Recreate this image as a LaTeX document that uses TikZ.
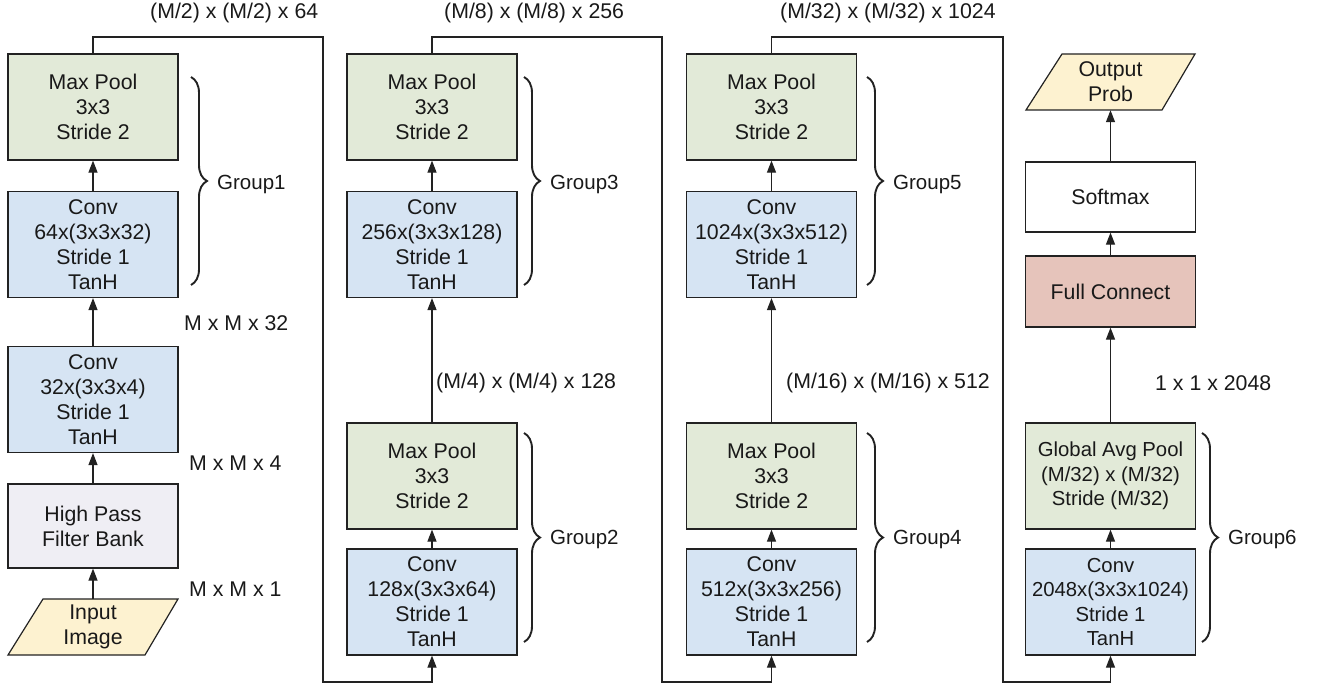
\documentclass[tikz,border=0pt]{standalone}
\usepackage{fontspec}
\setmainfont{Liberation Sans}
\usetikzlibrary{arrows.meta,decorations.pathreplacing}
\definecolor{cgreen}{HTML}{E2EAD8}
\definecolor{cblue}{HTML}{D6E4F3}
\definecolor{clav}{HTML}{EFEEF4}
\definecolor{cyel}{HTML}{FDF2D0}
\definecolor{cpink}{HTML}{E6C4BB}
\definecolor{cline}{HTML}{222222}
\begin{document}
\begin{tikzpicture}[x=1pt,y=-1pt,
  box/.style={draw=cline, line width=1.2pt, minimum width=170pt, inner sep=0pt, align=center,
              font=\fontsize{21.3}{25}\selectfont, text=black!90},
  poolbox/.style={box, fill=cgreen, minimum height=106pt},
  convbox/.style={box, fill=cblue, minimum height=106pt},
  iobox/.style={inner sep=0pt, align=center, minimum height=56pt, minimum width=100pt,
              font=\fontsize{21.3}{25}\selectfont, text=black!90},
  para/.style={draw=cline, line width=1.2pt, fill=cyel},
  arr/.style={draw=cline, line width=1.2pt, -{Triangle[length=12pt,width=9pt]}},
  lbl/.style={anchor=west, inner sep=0pt, font=\fontsize{21.3}{25}\selectfont, text=black!90},
  glbl/.style={anchor=west, inner sep=0pt, font=\fontsize{20.5}{25}\selectfont, text=black!90},
  grp/.style={draw=cline, line width=1.9pt, decorate, decoration={brace, amplitude=16pt}},
]
\useasboundingbox (0,0) rectangle (1320,690);

% ---------- column 1 ----------
\filldraw[para] (8,655) -- (43,599) -- (178,599) -- (145,655) -- cycle;
\node[iobox] (in) at (93,627) {Input\\Image};
\node[box, fill=clav, minimum height=84pt] (hpf) at (93,526) {High Pass\\Filter Bank};
\node[convbox] (c1a) at (93,399.5) {Conv\\32x(3x3x4)\\Stride 1\\TanH};
\node[convbox] (c1b) at (93,244.5) {Conv\\64x(3x3x32)\\Stride 1\\TanH};
\node[poolbox] (p1) at (93,107) {Max Pool\\3x3\\Stride 2};

% ---------- column 2 ----------
\node[convbox] (c2) at (432,602) {Conv\\128x(3x3x64)\\Stride 1\\TanH};
\node[poolbox] (p2) at (432,476) {Max Pool\\3x3\\Stride 2};
\node[convbox] (c3) at (432,244.5) {Conv\\256x(3x3x128)\\Stride 1\\TanH};
\node[poolbox] (p3) at (432,107) {Max Pool\\3x3\\Stride 2};

% ---------- column 3 ----------
\node[convbox] (c4) at (771.5,602) {Conv\\512x(3x3x256)\\Stride 1\\TanH};
\node[poolbox] (p4) at (771.5,476) {Max Pool\\3x3\\Stride 2};
\node[convbox] (c5) at (771.5,244.5) {Conv\\1024x(3x3x512)\\Stride 1\\TanH};
\node[poolbox] (p5) at (771.5,107) {Max Pool\\3x3\\Stride 2};

% ---------- column 4 ----------
\node[convbox, font=\fontsize{20.3}{24.5}\selectfont] (c6) at (1110.5,602) {Conv\\2048x(3x3x1024)\\Stride 1\\TanH};
\node[poolbox, font=\fontsize{20.3}{24.5}\selectfont] (gap) at (1110.5,476) {Global Avg Pool\\(M/32) x (M/32)\\Stride (M/32)};
\node[box, fill=cpink, minimum height=71pt] (fc) at (1110.5,291.5) {Full Connect};
\node[box, fill=white, minimum height=70pt] (sm) at (1110.5,197) {Softmax};
\filldraw[para] (1026,110) -- (1062,54) -- (1195,54) -- (1162,110) -- cycle;
\node[iobox] (out) at (1110.5,82) {Output\\Prob};

% ---------- routing corners ----------
\coordinate (r1t) at (323,37);
\coordinate (r1b) at (323,682);
\coordinate (r2t) at (662,37);
\coordinate (r2b) at (662,682);
\coordinate (r3t) at (1003,37);
\coordinate (r3b) at (1003,682);

% ---------- connectors ----------
\draw[arr] (in.north) -- (hpf.south);
\draw[arr] (hpf.north) -- (c1a.south);
\draw[arr] (c1a.north) -- (c1b.south);
\draw[arr] (c1b.north) -- (p1.south);
\draw[arr] (p1.north) |- (r1t) -- (r1b) -| (c2.south);
\draw[arr] (c2.north) -- (p2.south);
\draw[arr] (p2.north) -- (c3.south);
\draw[arr] (c3.north) -- (p3.south);
\draw[arr] (p3.north) |- (r2t) -- (r2b) -| (c4.south);
\draw[arr] (c4.north) -- (p4.south);
\draw[arr] (p4.north) -- (c5.south);
\draw[arr] (c5.north) -- (p5.south);
\draw[arr] (p5.north) |- (r3t) -- (r3b) -| (c6.south);
\draw[arr] (c6.north) -- (gap.south);
\draw[arr] (gap.north) -- (fc.south);
\draw[arr] (fc.north) -- (sm.south);
\draw[arr] (sm.north) -- (out.south);

% ---------- size labels ----------
\node[lbl] (l1) at (189,589) {M x M x 1};
\node[lbl] (l4) at (189,463) {M x M x 4};
\node[lbl] (l32) at (184,323) {M x M x 32};
\node[lbl] (l64) at (150,13) {(M/2) x (M/2) x 64};
\node[lbl] (l128) at (436,383) {(M/4) x (M/4) x 128};
\node[lbl] (l256) at (444,13) {(M/8) x (M/8) x 256};
\node[lbl] (l512) at (786,383) {(M/16) x (M/16) x 512};
\node[lbl] (l1024) at (780,13) {(M/32) x (M/32) x 1024};
\node[lbl] (l2048) at (1155,383) {1 x 1 x 2048};

% ---------- group braces ----------
\coordinate (g1a) at (191,77);  \coordinate (g1b) at (191,285);
\coordinate (g3a) at (524,77);  \coordinate (g3b) at (524,285);
\coordinate (g2a) at (524,433); \coordinate (g2b) at (524,642);
\coordinate (g5a) at (867,77);  \coordinate (g5b) at (867,285);
\coordinate (g4a) at (867,433); \coordinate (g4b) at (867,642);
\coordinate (g6a) at (1202,433); \coordinate (g6b) at (1202,642);
\draw[grp] (g1a) -- (g1b);
\draw[grp] (g3a) -- (g3b);
\draw[grp] (g2a) -- (g2b);
\draw[grp] (g5a) -- (g5b);
\draw[grp] (g4a) -- (g4b);
\draw[grp] (g6a) -- (g6b);
\node[glbl] (G1) at (217,184) {Group1};
\node[glbl] (G3) at (550,184) {Group3};
\node[glbl] (G2) at (550,539) {Group2};
\node[glbl] (G5) at (893,184) {Group5};
\node[glbl] (G4) at (893,539) {Group4};
\node[glbl] (G6) at (1228,539) {Group6};
\end{tikzpicture}
\end{document}
